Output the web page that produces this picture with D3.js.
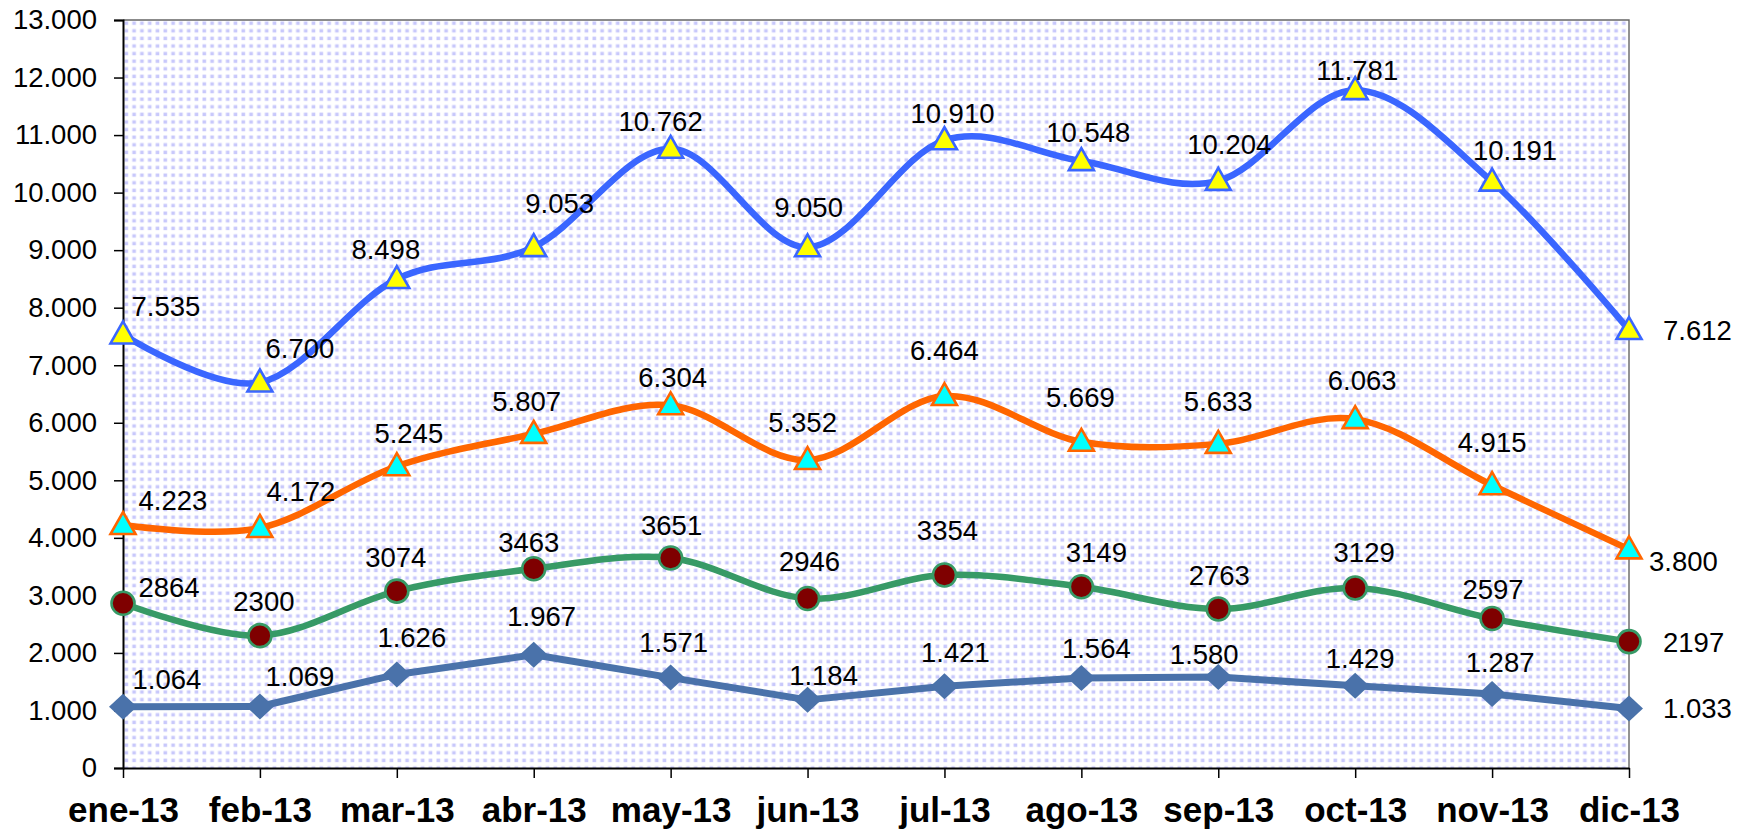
<!DOCTYPE html>
<html>
<head>
<meta charset="utf-8">
<script src="https://cdn.jsdelivr.net/npm/d3@7"></script>
<style>
	html, body { margin: 0; padding: 0; background: #fff; }
	svg { display: block; font-family: "Liberation Sans", Arial, sans-serif; }
</style>
</head>
<body>
<svg id="chart" width="1757" height="830"></svg>
<script>
// data
const months = ["ene-13","feb-13","mar-13","abr-13","may-13","jun-13","jul-13","ago-13","sep-13","oct-13","nov-13","dic-13"]
const serie1 = [1064,1069,1626,1967,1571,1184,1421,1564,1580,1429,1287,1033]
const serie2 = [2864,2300,3074,3463,3651,2946,3354,3149,2763,3129,2597,2197]
const serie3 = [4223,4172,5245,5807,6304,5352,6464,5669,5633,6063,4915,3800]
const serie4 = [7535,6700,8498,9053,10762,9050,10910,10548,10204,11781,10191,7612]
const yTicks = d3.range(0, 13001, 1000)

// label nudges (relative to the point), like hand-moved excel labels; last one sits to the right
const nudges = [
	[[44,-27],[40,-30],[15,-37],[8,-38],[3,-35],[16,-24],[11,-34],[15,-30],[-14,-23],[5,-27],[8,-31],[34,0]],
	[[46,-16],[4,-34],[-1,-34],[-5,-26],[1,-32],[2,-37],[3,-45],[15,-34],[1,-34],[9,-35],[1,-29],[34,1]],
	[[50,-25],[41,-36],[12,-33],[-7,-32],[2,-28],[-5,-38],[0,-46],[-1,-44],[0,-42],[7,-39],[0,-43],[20,12]],
	[[43,-28],[40,-34],[-11,-30],[26,-44],[-10,-27],[1,-40],[8,-27],[7,-29],[11,-36],[2,-20],[23,-31],[34,0]]
]

const es = d3.formatLocale({decimal: ",", thousands: ".", grouping: [3], currency: ["", " €"]})
const fmtDot = es.format(",d"), fmtPlain = d3.format("d")

const series = [
	{values: serie1, line: "#4a72aa", width: 7, curve: d3.curveLinear, marker: "diamond", fill: "#4a72aa", stroke: "#4a72aa", fmt: fmtDot},
	{values: serie2, line: "#379a66", width: 6.5, curve: d3.curveCardinal.tension(0), marker: "circle", fill: "#7f0000", stroke: "#379a66", fmt: fmtPlain},
	{values: serie3, line: "#ff6600", width: 6.5, curve: d3.curveCardinal.tension(0), marker: "triangle", fill: "#00ffff", stroke: "#ff6600", fmt: fmtDot},
	{values: serie4, line: "#3a66ff", width: 6.5, curve: d3.curveCardinal.tension(0), marker: "triangle", fill: "#ffff00", stroke: "#3a66ff", fmt: fmtDot}
]

const plotL = 123, plotR = 1629, plotT = 20, plotB = 768
const x = d3.scalePoint().domain(months).range([plotL, plotR])
const y = d3.scaleLinear().domain([0, 13000]).range([plotB, plotT])

const svg = d3.select("#chart")

// dotted lavender plot-area fill
const defs = svg.append("defs")
const pat = defs.append("pattern").attr("id", "dots")
	.attr("patternUnits", "userSpaceOnUse")
	.attr("x", plotL).attr("y", plotT)
	.attr("width", 7.8).attr("height", 7.6)
pat.append("rect").attr("width", 7.8).attr("height", 7.6).attr("fill", "#fff")
pat.append("rect").attr("x", 1.5).attr("y", 1.5).attr("width", 3.6).attr("height", 3.4).attr("fill", "#c8c8fb")

svg.append("rect")
	.attr("x", plotL).attr("y", plotT)
	.attr("width", plotR - plotL).attr("height", plotB - plotT)
	.attr("fill", "url(#dots)")
	.attr("stroke", "none")
// top and right border of the plot area
svg.append("path")
	.attr("d", `M${plotL},${plotT}H${plotR}V${plotB}`)
	.attr("fill", "none").attr("stroke", "#666").attr("stroke-width", 1.4)

// axes
const yAxis = svg.append("g")
	.attr("transform", `translate(${plotL},0)`)
	.call(d3.axisLeft(y).tickValues(yTicks).tickSize(9).tickPadding(17).tickFormat(d => d === 0 ? "0" : fmtDot(d)))
yAxis.select(".domain").attr("stroke", "#000").attr("stroke-width", 2)
yAxis.selectAll(".tick line").attr("stroke", "#000").attr("stroke-width", 1.5)
yAxis.selectAll(".tick text")
	.attr("font-family", "Liberation Sans, Arial, sans-serif")
	.attr("font-size", 27.5).attr("fill", "#000")

const xAxis = svg.append("g")
	.attr("transform", `translate(0,${plotB})`)
	.call(d3.axisBottom(x).tickSize(10).tickPadding(19).tickSizeOuter(0))
xAxis.select(".domain").attr("stroke", "#000").attr("stroke-width", 2)
xAxis.selectAll(".tick line").attr("stroke", "#000").attr("stroke-width", 1.5)
xAxis.selectAll(".tick text")
	.attr("font-family", "Liberation Sans, Arial, sans-serif")
	.attr("font-size", 35).attr("font-weight", "bold").attr("fill", "#000")

// lines, markers and value labels
const symbols = {
	diamond: s => s.append("path").attr("d", "M0,-13L14,0L0,13L-14,0Z"),
	circle: s => s.append("circle").attr("r", 11.5),
	triangle: s => s.append("path").attr("d", "M0,-13L12.5,9L-12.5,9Z")
}

series.forEach((ser, si) => {
	const pts = ser.values.map((v, i) => ({m: months[i], v, i}))
	const g = svg.append("g").attr("class", "serie" + (si + 1))
	g.append("path")
		.datum(pts)
		.attr("d", d3.line().x(d => x(d.m)).y(d => y(d.v)).curve(ser.curve))
		.attr("fill", "none")
		.attr("stroke", ser.line)
		.attr("stroke-width", ser.width)
		.attr("stroke-linejoin", "round")

	g.selectAll("g.marker")
		.data(pts)
		.enter().append("g").attr("class", "marker")
		.attr("transform", d => `translate(${x(d.m)},${y(d.v)})`)
		.each(function(){
			symbols[ser.marker](d3.select(this))
				.attr("fill", ser.fill)
				.attr("stroke", ser.stroke)
				.attr("stroke-width", ser.marker === "diamond" ? 0 : 2.6)
		})

	g.selectAll("text.label")
		.data(pts)
		.enter().append("text").attr("class", "label")
		.attr("x", d => x(d.m) + nudges[si][d.i][0])
		.attr("y", d => y(d.v) + nudges[si][d.i][1])
		.attr("text-anchor", d => d.i === pts.length - 1 ? "start" : "middle")
		.attr("dominant-baseline", "central")
		.attr("font-size", 27.5)
		.attr("fill", "#000")
		.text(d => ser.fmt(d.v))
})
</script>
</body>
</html>
